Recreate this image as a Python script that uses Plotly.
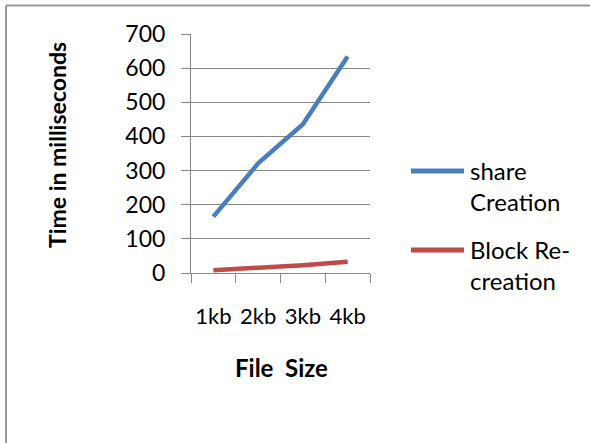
import plotly.graph_objects as go

# File sizes and measured times (ms)
file_sizes = ["1kb", "2kb", "3kb", "4kb"]
share_creation = [165, 321, 436, 634]
block_recreation = [8, 15, 23, 33]
series_names = ["share<br>Creation", "Block Re-<br>creation"]
series_colors = ["#4A7EBB", "#BE4B48"]

W, H = 590, 443
L, R, T, B = 191, 220, 34, 170
PW, PH = W - L - R, H - T - B


def px(x):
    return (x - L) / PW


def py(y):
    return (H - B - y) / PH


FONT = "Lato"
GRID = "#868686"

fig = go.Figure()
for vals, name, color in zip([share_creation, block_recreation], series_names, series_colors):
    fig.add_trace(go.Scatter(
        x=file_sizes, y=vals, mode="lines", name=name,
        line=dict(color=color, width=4.5), showlegend=False,
    ))

fig.update_layout(
    width=W, height=H,
    margin=dict(l=L, r=R, t=T, b=B),
    paper_bgcolor="white", plot_bgcolor="white",
    font=dict(family=FONT, color="black"),
    xaxis=dict(
        type="category", range=[-0.5, 3.5],
        tickson="boundaries", ticks="outside", ticklen=9, tickcolor=GRID, tickwidth=1,
        showline=True, linecolor=GRID, linewidth=1,
        showgrid=False, zeroline=False, tickangle=0,
        tickfont=dict(size=22, family=FONT, color="black"),
        ticklabelstandoff=24,
    ),
    yaxis=dict(
        range=[0, 700], dtick=100, tick0=0,
        ticks="outside", ticklen=9, tickcolor=GRID, tickwidth=1,
        showline=True, linecolor=GRID, linewidth=1,
        showgrid=True, gridcolor=GRID, gridwidth=1, zeroline=False,
        tickfont=dict(size=23, family=FONT, color="black"),
        ticklabelstandoff=11,
    ),
)

annotations = [
    dict(text="<b>Time in milliseconds</b>", textangle=-90,
         x=px(57), y=py(145), xref="paper", yref="paper",
         xanchor="center", yanchor="middle",
         showarrow=False, font=dict(size=23, family=FONT, color="black")),
    dict(text="<b>File  Size</b>",
         x=px(281), y=py(367), xref="paper", yref="paper",
         xanchor="center", yanchor="middle",
         showarrow=False, font=dict(size=24, family=FONT, color="black")),
]

shapes = []
# legend: line sample with two-line label
legend_rows = [171, 250]
for name, color, ly in zip(series_names, series_colors, legend_rows):
    shapes.append(dict(type="line", xref="paper", yref="paper",
                       x0=px(411), x1=px(464), y0=py(ly), y1=py(ly),
                       line=dict(color=color, width=5)))
    annotations.append(dict(text=name, x=px(468), y=py(ly - 17),
                            xref="paper", yref="paper", xanchor="left", yanchor="top",
                            align="left", showarrow=False,
                            font=dict(size=24, family=FONT, color="black")))

# outer frame (top and left edges)
shapes.append(dict(type="line", xref="paper", yref="paper",
                   x0=px(6), x1=px(W), y0=py(5.5), y1=py(5.5),
                   line=dict(color="#999999", width=2)))
shapes.append(dict(type="line", xref="paper", yref="paper",
                   x0=px(6), x1=px(6), y0=py(5.5), y1=py(H),
                   line=dict(color="#999999", width=2)))

fig.update_layout(annotations=annotations, shapes=shapes)
fig.write_html("out.html")
